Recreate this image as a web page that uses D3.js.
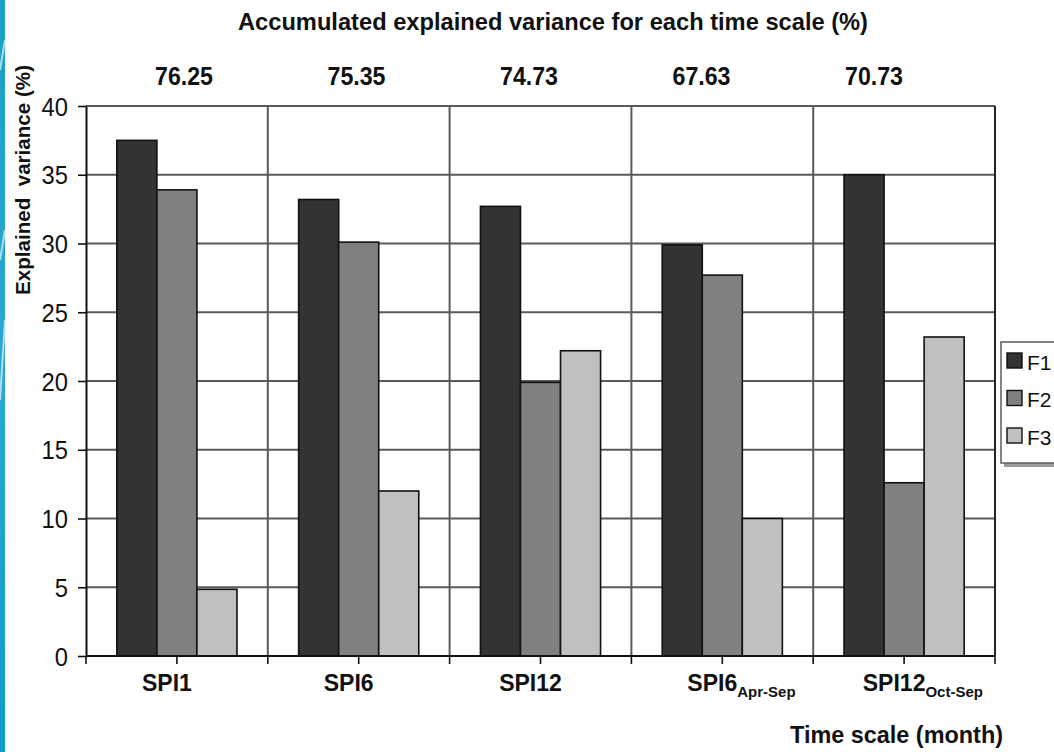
<!DOCTYPE html>
<html>
<head>
<meta charset="utf-8">
<script src="https://cdn.jsdelivr.net/npm/d3@7"></script>
<style>
  body { margin: 0; background: #fff; }
  svg { display: block; font-family: "Liberation Sans", Arial, sans-serif; }
</style>
</head>
<body>
<svg id="chart" width="1054" height="752"></svg>
<script>
// Time scales (main label + subscript)
const categories = ["SPI1", "SPI6", "SPI12", "SPI6 Apr-Sep", "SPI12 Oct-Sep"];
const series = ["F1", "F2", "F3"];
// Explained variance (%) of each factor per time scale
const f1Values = [37.5, 33.2, 32.7, 29.9, 35.0];
const f2Values = [33.9, 30.1, 19.9, 27.7, 12.6];
const f3Values = [4.85, 12.0, 22.2, 10.0, 23.2];
// Accumulated explained variance per time scale
const accumulated = ["76.25", "75.35", "74.73", "67.63", "70.73"];
const yTicks = [0, 5, 10, 15, 20, 25, 30, 35, 40];
const seriesColors = ["#333333", "#808080", "#c0c0c0"];

const valuesBySeries = [f1Values, f2Values, f3Values];

const svg = d3.select("#chart");
const plot = { left: 86, right: 995, top: 106, bottom: 656 };

// Decorative blue strip on the left edge
const defs = svg.append("defs");
const grad = defs.append("linearGradient").attr("id", "strip")
  .attr("x1", 0).attr("y1", 0).attr("x2", 0).attr("y2", 1);
grad.append("stop").attr("offset", "0%").attr("stop-color", "#1d9fc4");
grad.append("stop").attr("offset", "50%").attr("stop-color", "#2aa9d0");
grad.append("stop").attr("offset", "100%").attr("stop-color", "#0f9cc6");
svg.append("rect").attr("x", 0).attr("y", 0).attr("width", 5).attr("height", 752)
  .attr("fill", "url(#strip)");
[[40, 70], [230, 260], [320, 400]].forEach(([a, b]) => {
  svg.append("line").attr("x1", 0).attr("x2", 5).attr("y1", b).attr("y2", a)
    .attr("stroke", "#cfeef7").attr("stroke-width", 2).attr("opacity", 0.8);
});

const x = d3.scaleBand().domain(categories).range([plot.left, plot.right])
  .paddingInner(0).paddingOuter(0);
const xs = d3.scaleBand().domain(series).range([0, x.bandwidth()])
  .paddingInner(0).paddingOuter(0.77);
const y = d3.scaleLinear().domain([0, 40]).range([plot.bottom, plot.top]);

// Horizontal gridlines
svg.append("g").selectAll("line").data(yTicks.filter(d => d > 0)).join("line")
  .attr("x1", plot.left).attr("x2", plot.right)
  .attr("y1", d => y(d)).attr("y2", d => y(d))
  .attr("stroke", "#5a5a5a").attr("stroke-width", 2);

// Vertical dividers between time scales
const bounds = categories.map(c => x(c)).concat([x.range()[1]]);
svg.append("g").selectAll("line").data(bounds.slice(1)).join("line")
  .attr("x1", d => d).attr("x2", d => d)
  .attr("y1", plot.top).attr("y2", plot.bottom)
  .attr("stroke", d => d === plot.right ? "#222" : "#5a5a5a")
  .attr("stroke-width", 2);

// Bars
const rows = categories.map((c, i) => ({ c, vals: series.map((s, j) => ({ s, j, v: valuesBySeries[j][i] })) }));
svg.append("g").selectAll("g").data(rows).join("g")
  .attr("transform", d => `translate(${x(d.c)},0)`)
  .selectAll("rect").data(d => d.vals).join("rect")
  .attr("x", d => xs(d.s)).attr("width", xs.bandwidth())
  .attr("y", d => y(d.v)).attr("height", d => y(0) - y(d.v))
  .attr("fill", d => seriesColors[d.j])
  .attr("stroke", "#111").attr("stroke-width", 1.6);

// Y axis
const yAxis = svg.append("g").attr("transform", `translate(${plot.left},0)`)
  .call(d3.axisLeft(y).tickValues(yTicks).tickSize(8).tickPadding(10).tickSizeOuter(0));
yAxis.select(".domain").attr("stroke", "#111").attr("stroke-width", 2);
yAxis.selectAll(".tick line").attr("stroke", "#111").attr("stroke-width", 1.6);
yAxis.selectAll(".tick text").attr("font-size", 25).attr("fill", "#111")
  .attr("font-family", "'Liberation Sans', Arial, sans-serif")
  .attr("dy", "0.36em")
  .attr("transform", "scale(0.95,1)").attr("x", -18 / 0.95);

// X axis baseline and ticks (at dividers and centres)
svg.append("line").attr("x1", plot.left).attr("x2", plot.right)
  .attr("y1", plot.bottom).attr("y2", plot.bottom)
  .attr("stroke", "#111").attr("stroke-width", 2);
const tickXs = bounds.concat(categories.map(c => x(c) + x.bandwidth() / 2));
svg.append("g").selectAll("line").data(tickXs).join("line")
  .attr("x1", d => d).attr("x2", d => d)
  .attr("y1", plot.bottom).attr("y2", plot.bottom + 8)
  .attr("stroke", "#111").attr("stroke-width", 1.6);

// Category labels with subscripts
categories.forEach(c => {
  const [main, sub] = c.split(" ");
  const t = svg.append("text").attr("y", 691).attr("font-weight", "bold")
    .attr("font-size", 23).attr("fill", "#111");
  const m = t.append("tspan").text(main);
  const w = m.node().getComputedTextLength();
  t.attr("x", x(c) + x.bandwidth() / 2 - 10 - w / 2);
  if (sub) t.append("tspan").attr("font-size", 15).attr("dy", 6).text(sub);
});

// Fit a text element to a given width by horizontal scaling
function fitText(sel, width) {
  const w = sel.node().getComputedTextLength();
  sel.attr("textLength", width).attr("lengthAdjust", "spacingAndGlyphs");
  return w;
}

// Title and accumulated totals
const title = svg.append("text").attr("x", 553).attr("y", 30).attr("text-anchor", "middle")
  .attr("font-weight", "bold").attr("font-size", 24).attr("fill", "#111")
  .text("Accumulated explained variance for each time scale (%)");
fitText(title, 630);

const xTop = d3.scalePoint().domain(categories).range([184, 874]);
categories.forEach((c, i) => {
  const t = svg.append("text").attr("x", xTop(c)).attr("y", 85).attr("text-anchor", "middle")
    .attr("font-weight", "bold").attr("font-size", 25).attr("fill", "#111")
    .text(accumulated[i]);
  fitText(t, 58);
});

// Axis titles
const yTitle = svg.append("text").attr("transform", "translate(30,180) rotate(-90)")
  .attr("text-anchor", "middle").attr("font-weight", "bold").attr("font-size", 20)
  .attr("fill", "#111").style("white-space", "pre")
  .text("Explained  variance (%)");
fitText(yTitle, 230);

const xTitle = svg.append("text").attr("x", 1003).attr("y", 743).attr("text-anchor", "end")
  .attr("font-weight", "bold").attr("font-size", 23).attr("fill", "#111")
  .text("Time scale (month)");
fitText(xTitle, 213);

// Legend
const lg = svg.append("g");
lg.append("rect").attr("x", 1004).attr("y", 345).attr("width", 70).attr("height", 122)
  .attr("fill", "#9a9a9a");
lg.append("rect").attr("x", 1001).attr("y", 342).attr("width", 70).attr("height", 121)
  .attr("fill", "#fff").attr("stroke", "#666").attr("stroke-width", 1.6);
const li = lg.selectAll("g.item").data(series).join("g").attr("class", "item")
  .attr("transform", (d, i) => `translate(0,${i * 37.5})`);
li.append("rect").attr("x", 1007).attr("y", 353).attr("width", 15).attr("height", 15)
  .attr("fill", (d, i) => seriesColors[i]).attr("stroke", "#111").attr("stroke-width", 1.4);
li.append("text").attr("x", 1027).attr("y", 369.5).attr("font-size", 21).attr("fill", "#111")
  .text(d => d);
</script>
</body>
</html>
